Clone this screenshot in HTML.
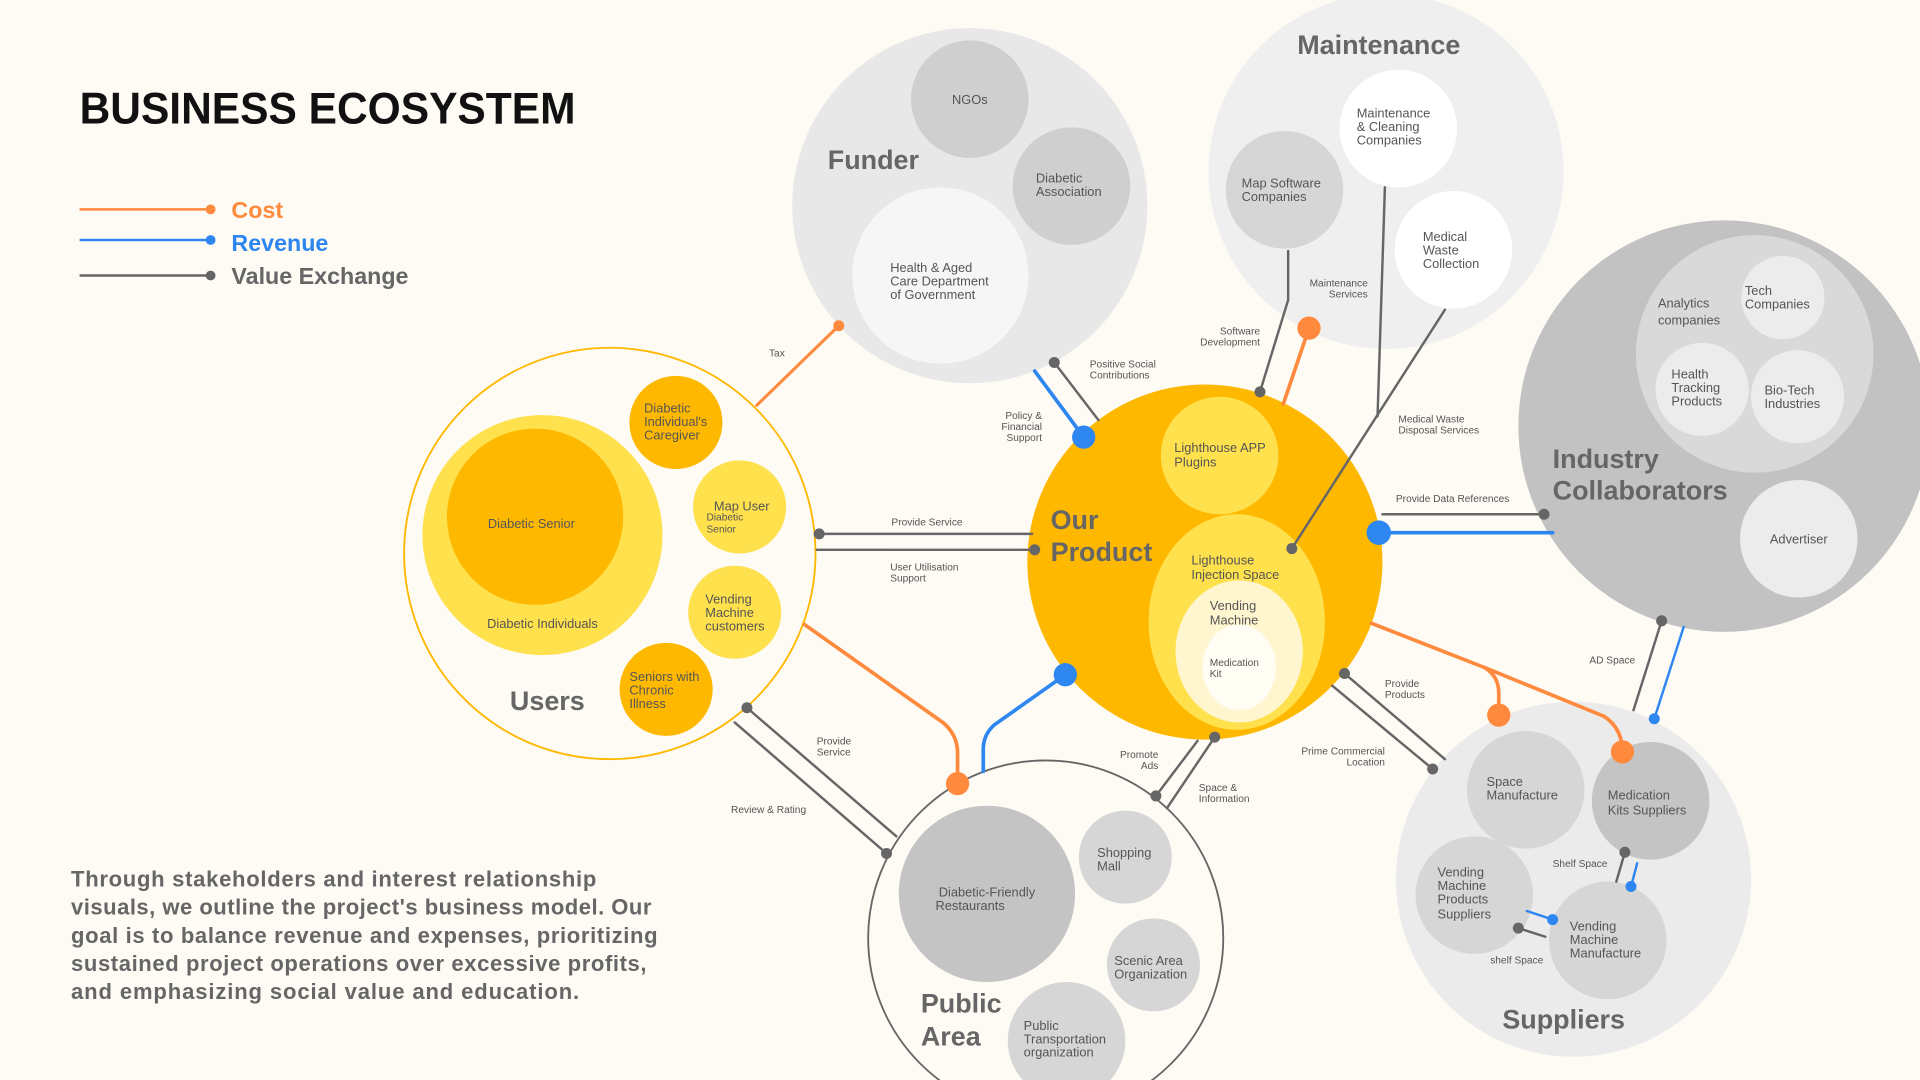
<!DOCTYPE html>
<html><head><meta charset="utf-8"><style>
html,body{margin:0;padding:0;background:#fdfbf4;}
svg{display:block;font-family:"Liberation Sans",sans-serif;}
.s{font-size:8.3px;fill:#555;}
.c{font-size:10.5px;fill:#555;}
.b{font-size:22px;fill:#666;font-weight:bold;}
</style></head><body>
<svg width="1920" height="1080" viewBox="0 0 1568 882" xmlns="http://www.w3.org/2000/svg">
<rect width="1568" height="882" fill="#fdfbf4"/>
<text x="65" y="101" font-size="36" font-weight="bold" fill="#111" textLength="405" lengthAdjust="spacingAndGlyphs">BUSINESS ECOSYSTEM</text>
<line x1="65" y1="171" x2="172" y2="171" stroke="#ff8a3d" stroke-width="2"/><circle cx="172" cy="171" r="4" fill="#ff8a3d"/>
<line x1="65" y1="196" x2="172" y2="196" stroke="#2e86f0" stroke-width="2"/><circle cx="172" cy="196" r="4" fill="#2e86f0"/>
<line x1="65" y1="225" x2="172" y2="225" stroke="#666" stroke-width="2"/><circle cx="172" cy="225" r="4" fill="#666"/>
<text x="189" y="178" font-size="19" font-weight="bold" fill="#ff8a3d">Cost</text>
<text x="189" y="205" font-size="19" font-weight="bold" fill="#2e86f0">Revenue</text>
<text x="189" y="232" font-size="19" font-weight="bold" fill="#666">Value Exchange</text>
<g font-size="18" font-weight="bold" fill="#666" lengthAdjust="spacingAndGlyphs">
<text x="58" y="724" textLength="429">Through stakeholders and interest relationship</text>
<text x="58" y="747" textLength="474">visuals, we outline the project's business model. Our</text>
<text x="58" y="770" textLength="479">goal is to balance revenue and expenses, prioritizing</text>
<text x="58" y="793" textLength="470">sustained project operations over excessive profits,</text>
<text x="58" y="816" textLength="415">and emphasizing social value and education.</text>
</g>

<!-- Funder -->
<circle cx="792" cy="168" r="145" fill="#e8e8e8"/>
<circle cx="792" cy="81" r="48" fill="#cfcfcf"/>
<circle cx="875" cy="152" r="48" fill="#cfcfcf"/>
<circle cx="768" cy="225" r="72" fill="#f6f6f6"/>
<text class="b" x="676" y="138">Funder</text>
<text class="c" x="792" y="85" text-anchor="middle">NGOs</text>
<text class="c" x="846" y="149">Diabetic</text><text class="c" x="846" y="160">Association</text>
<text class="c" x="727" y="222">Health &amp; Aged</text><text class="c" x="727" y="233">Care Department</text><text class="c" x="727" y="244">of Government</text>

<!-- Maintenance -->
<circle cx="1132" cy="140" r="145" fill="#efefef"/>
<circle cx="1142" cy="105" r="48" fill="#fff"/>
<circle cx="1049" cy="155" r="48" fill="#d6d6d6"/>
<circle cx="1187" cy="204" r="48" fill="#fff"/>
<text class="b" x="1126" y="44" text-anchor="middle">Maintenance</text>
<text class="c" x="1108" y="96">Maintenance</text><text class="c" x="1108" y="107">&amp; Cleaning</text><text class="c" x="1108" y="118">Companies</text>
<text class="c" x="1014" y="153">Map Software</text><text class="c" x="1014" y="164">Companies</text>
<text class="c" x="1162" y="197">Medical</text><text class="c" x="1162" y="208">Waste</text><text class="c" x="1162" y="219">Collection</text>

<!-- Industry -->
<circle cx="1408" cy="348" r="168" fill="#c2c2c2"/>
<circle cx="1433" cy="289" r="97" fill="#d9d9d9"/>
<circle cx="1456" cy="243" r="34" fill="#ececec"/>
<circle cx="1390" cy="318" r="38" fill="#ececec"/>
<circle cx="1468" cy="324" r="38" fill="#ececec"/>
<circle cx="1469" cy="440" r="48" fill="#ececec"/>
<text class="c" x="1354" y="251">Analytics</text><text class="c" x="1354" y="265">companies</text>
<text class="c" x="1425" y="241">Tech</text><text class="c" x="1425" y="252">Companies</text>
<text class="c" x="1365" y="309">Health</text><text class="c" x="1365" y="320">Tracking</text><text class="c" x="1365" y="331">Products</text>
<text class="c" x="1441" y="322">Bio-Tech</text><text class="c" x="1441" y="333">Industries</text>
<text class="c" x="1469" y="444" text-anchor="middle">Advertiser</text>
<text class="b" x="1268" y="382">Industry</text><text class="b" x="1268" y="408">Collaborators</text>

<!-- Suppliers -->
<circle cx="1285" cy="718" r="145" fill="#ebebeb"/>
<circle cx="1246" cy="645" r="48" fill="#d6d6d6"/>
<circle cx="1348" cy="654" r="48" fill="#c4c4c4"/>
<circle cx="1204" cy="731" r="48" fill="#d6d6d6"/>
<circle cx="1313" cy="768" r="48" fill="#d6d6d6"/>
<text class="c" x="1214" y="642">Space</text><text class="c" x="1214" y="653">Manufacture</text>
<text class="c" x="1313" y="653">Medication</text><text class="c" x="1313" y="665">Kits Suppliers</text>
<text class="c" x="1174" y="716">Vending</text><text class="c" x="1174" y="727">Machine</text><text class="c" x="1174" y="738">Products</text><text class="c" x="1174" y="750">Suppliers</text>
<text class="c" x="1282" y="760">Vending</text><text class="c" x="1282" y="771">Machine</text><text class="c" x="1282" y="782">Manufacture</text>
<text class="b" x="1277" y="840" text-anchor="middle">Suppliers</text>

<!-- Public Area -->
<circle cx="854" cy="766" r="145" fill="none" stroke="#666" stroke-width="1.5"/>
<circle cx="806" cy="730" r="72" fill="#c4c4c4"/>
<circle cx="919" cy="700" r="38" fill="#d6d6d6"/>
<circle cx="942" cy="788" r="38" fill="#d6d6d6"/>
<circle cx="871" cy="850" r="48" fill="#d6d6d6"/>
<text class="c" x="806" y="732" text-anchor="middle">Diabetic-Friendly</text><text class="c" x="764" y="743">Restaurants</text>
<text class="c" x="896" y="700">Shopping</text><text class="c" x="896" y="711">Mall</text>
<text class="c" x="910" y="788">Scenic Area</text><text class="c" x="910" y="799">Organization</text>
<text class="c" x="836" y="841">Public</text><text class="c" x="836" y="852">Transportation</text><text class="c" x="836" y="863">organization</text>
<text class="b" x="752" y="827">Public</text><text class="b" x="752" y="854">Area</text>

<!-- Users -->
<circle cx="498" cy="452" r="168" fill="none" stroke="#ffb800" stroke-width="1.5"/>
<circle cx="443" cy="437" r="98" fill="#ffe14d"/>
<circle cx="437" cy="422" r="72" fill="#ffb800"/>
<circle cx="552" cy="345" r="38" fill="#ffb800"/>
<circle cx="604" cy="414" r="38" fill="#ffe14d"/>
<circle cx="600" cy="500" r="38" fill="#ffe14d"/>
<circle cx="544" cy="563" r="38" fill="#ffb800"/>
<text class="c" x="434" y="431" text-anchor="middle">Diabetic Senior</text>
<text class="c" x="443" y="513" text-anchor="middle">Diabetic Individuals</text>
<text class="c" x="526" y="337">Diabetic</text><text class="c" x="526" y="348">Individual's</text><text class="c" x="526" y="359">Caregiver</text>
<text class="c" x="583" y="417">Map User</text><text class="s" x="577" y="425">Diabetic</text><text class="s" x="577" y="435">Senior</text>
<text class="c" x="576" y="493">Vending</text><text class="c" x="576" y="504">Machine</text><text class="c" x="576" y="515">customers</text>
<text class="c" x="514" y="556">Seniors with</text><text class="c" x="514" y="567">Chronic</text><text class="c" x="514" y="578">Illness</text>
<text class="b" x="447" y="580" text-anchor="middle">Users</text>

<!-- Our Product -->
<circle cx="984" cy="459" r="145" fill="#ffb800"/>
<circle cx="996" cy="372" r="48" fill="#ffe14d"/>
<ellipse cx="1010" cy="508" rx="72" ry="88" fill="#ffe14d"/>
<ellipse cx="1012" cy="532" rx="52" ry="58" fill="#fff6d0"/>
<ellipse cx="1012" cy="545" rx="30" ry="35" fill="#fffdf4"/>
<text class="b" x="858" y="432">Our</text><text class="b" x="858" y="458">Product</text>
<text class="c" x="959" y="369">Lighthouse APP</text><text class="c" x="959" y="381">Plugins</text>
<text class="c" x="973" y="461">Lighthouse</text><text class="c" x="973" y="473">Injection Space</text>
<text class="c" x="988" y="498">Vending</text><text class="c" x="988" y="510">Machine</text>
<text class="s" x="988" y="544">Medication</text><text class="s" x="988" y="553">Kit</text>

<!-- connectors -->
<g fill="none" stroke-width="3" stroke-linecap="round">
<line x1="685" y1="266" x2="618" y2="331" stroke="#ff8a3d" stroke-width="2.5"/>
<line x1="861" y1="296" x2="897" y2="343" stroke="#666" stroke-width="2"/>
<line x1="845" y1="303" x2="885" y2="357" stroke="#2e86f0"/>
<path d="M1052,205 L1052,245 L1029,320" stroke="#666" stroke-width="2"/>
<line x1="1069" y1="268" x2="1048" y2="330" stroke="#ff8a3d"/>
<line x1="1131" y1="153" x2="1125" y2="340" stroke="#666" stroke-width="2"/>
<line x1="1180" y1="253" x2="1055" y2="448" stroke="#666" stroke-width="2"/>
<line x1="1129" y1="420" x2="1261" y2="420" stroke="#666" stroke-width="2"/>
<line x1="1126" y1="435" x2="1268" y2="435" stroke="#2e86f0"/>
<line x1="669" y1="436" x2="843" y2="436" stroke="#666" stroke-width="2"/>
<line x1="667" y1="449" x2="845" y2="449" stroke="#666" stroke-width="2"/>
<path d="M657,510 L770,590 Q782,600 782,615 L782,640" stroke="#ff8a3d"/>
<path d="M870,551 L812,592 Q803,600 803,612 L803,630" stroke="#2e86f0"/>
<line x1="610" y1="578" x2="732" y2="683" stroke="#666" stroke-width="2"/>
<line x1="600" y1="590" x2="724" y2="697" stroke="#666" stroke-width="2"/>
<line x1="992" y1="602" x2="953" y2="660" stroke="#666" stroke-width="2"/>
<line x1="978" y1="605" x2="944" y2="650" stroke="#666" stroke-width="2"/>
<line x1="1098" y1="550" x2="1180" y2="620" stroke="#666" stroke-width="2"/>
<line x1="1088" y1="560" x2="1170" y2="628" stroke="#666" stroke-width="2"/>
<path d="M1120,509 L1212,545 Q1224,552 1224,566 L1224,584" stroke="#ff8a3d"/>
<path d="M1212,545 L1310,585 Q1325,595 1325,614" stroke="#ff8a3d"/>
<line x1="1357" y1="507" x2="1334" y2="580" stroke="#666" stroke-width="2"/>
<line x1="1375" y1="512" x2="1351" y2="587" stroke="#2e86f0" stroke-width="2"/>
<line x1="1327" y1="696" x2="1320" y2="720" stroke="#666" stroke-width="2"/>
<line x1="1337" y1="705" x2="1332" y2="724" stroke="#2e86f0" stroke-width="2"/>
<line x1="1247" y1="744" x2="1268" y2="751" stroke="#2e86f0" stroke-width="2"/>
<line x1="1240" y1="758" x2="1262" y2="765" stroke="#666" stroke-width="2"/>
</g>
<g fill="#666">
<circle cx="861" cy="296" r="4.5"/><circle cx="1029" cy="320" r="4.5"/><circle cx="1055" cy="448" r="4.5"/>
<circle cx="1261" cy="420" r="4.5"/><circle cx="669" cy="436" r="4.5"/><circle cx="845" cy="449" r="4.5"/>
<circle cx="610" cy="578" r="4.5"/><circle cx="724" cy="697" r="4.5"/><circle cx="992" cy="602" r="4.5"/>
<circle cx="944" cy="650" r="4.5"/><circle cx="1098" cy="550" r="4.5"/><circle cx="1170" cy="628" r="4.5"/>
<circle cx="1357" cy="507" r="4.5"/><circle cx="1327" cy="696" r="4.5"/><circle cx="1240" cy="758" r="4.5"/>
</g>
<g fill="#ff8a3d">
<circle cx="685" cy="266" r="4.5"/><circle cx="1069" cy="268" r="9.5"/><circle cx="782" cy="640" r="9.5"/>
<circle cx="1224" cy="584" r="9.5"/><circle cx="1325" cy="614" r="9.5"/>
</g>
<g fill="#2e86f0">
<circle cx="885" cy="357" r="9.5"/><circle cx="1126" cy="435" r="10"/><circle cx="870" cy="551" r="9.5"/>
<circle cx="1351" cy="587" r="4.5"/><circle cx="1332" cy="724" r="4.5"/><circle cx="1268" cy="751" r="4.5"/>
</g>

<!-- connector labels -->
<text class="s" x="628" y="291">Tax</text>
<text class="s" x="890" y="300">Positive Social</text><text class="s" x="890" y="309">Contributions</text>
<text class="s" x="851" y="342" text-anchor="end">Policy &amp;</text><text class="s" x="851" y="351" text-anchor="end">Financial</text><text class="s" x="851" y="360" text-anchor="end">Support</text>
<text class="s" x="1029" y="273" text-anchor="end">Software</text><text class="s" x="1029" y="282" text-anchor="end">Development</text>
<text class="s" x="1117" y="234" text-anchor="end">Maintenance</text><text class="s" x="1117" y="243" text-anchor="end">Services</text>
<text class="s" x="1142" y="345">Medical Waste</text><text class="s" x="1142" y="354">Disposal Services</text>
<text class="s" x="1140" y="410">Provide Data References</text>
<text class="s" x="728" y="429">Provide Service</text>
<text class="s" x="727" y="466">User Utilisation</text><text class="s" x="727" y="475">Support</text>
<text class="s" x="667" y="608">Provide</text><text class="s" x="667" y="617">Service</text>
<text class="s" x="597" y="664">Review &amp; Rating</text>
<text class="s" x="946" y="619" text-anchor="end">Promote</text><text class="s" x="946" y="628" text-anchor="end">Ads</text>
<text class="s" x="979" y="646">Space &amp;</text><text class="s" x="979" y="655">Information</text>
<text class="s" x="1131" y="561">Provide</text><text class="s" x="1131" y="570">Products</text>
<text class="s" x="1131" y="616" text-anchor="end">Prime Commercial</text><text class="s" x="1131" y="625" text-anchor="end">Location</text>
<text class="s" x="1298" y="542">AD Space</text>
<text class="s" x="1268" y="708">Shelf Space</text>
<text class="s" x="1217" y="787">shelf Space</text>
</svg>
</body></html>
